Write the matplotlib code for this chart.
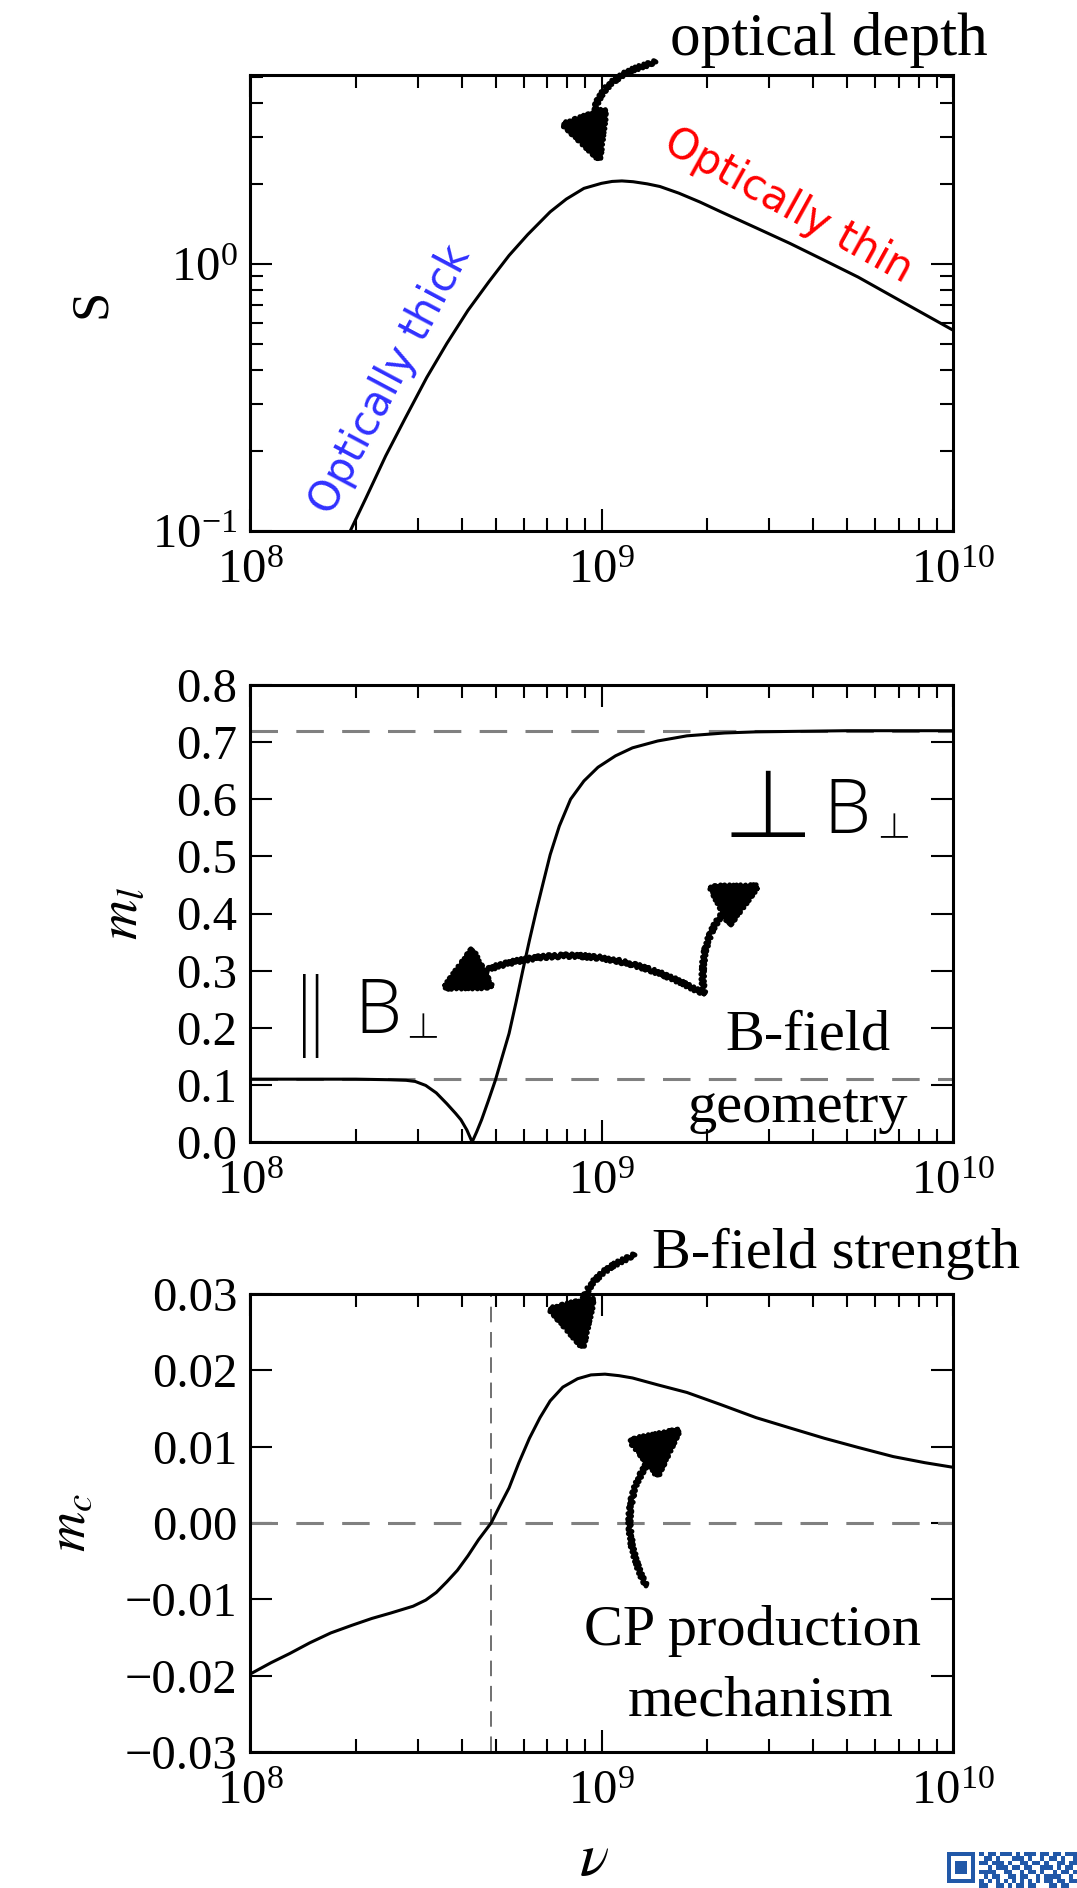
import numpy as np
import matplotlib
matplotlib.use('Agg')
import matplotlib.pyplot as plt
from matplotlib.patches import FancyArrowPatch
from matplotlib.colors import ListedColormap
from matplotlib.ticker import NullFormatter, MultipleLocator, FuncFormatter

plt.rcParams['font.family'] = ['Liberation Serif', 'DejaVu Serif']
plt.rcParams['mathtext.fontset'] = 'stix'

# --- data ---
# flux density S(nu)
nu_S = [1.928e8, 2.138e8, 2.432e8, 2.754e8, 3.184e8, 3.631e8, 4.169e8, 4.786e8,
        5.458e8, 6.166e8, 7.145e8, 7.943e8, 8.913e8, 1.0e9, 1.072e9, 1.143e9,
        1.230e9, 1.349e9, 1.466e9, 1.660e9, 1.905e9, 2.188e9, 2.754e9, 3.436e9,
        4.266e9, 5.370e9, 7.244e9, 1.0e10]
S = [0.100, 0.133, 0.191, 0.262, 0.376, 0.504, 0.670, 0.859,
     1.076, 1.288, 1.567, 1.750, 1.919, 2.004, 2.037, 2.046,
     2.032, 1.995, 1.950, 1.841, 1.706, 1.567, 1.365, 1.194,
     1.038, 0.893, 0.716, 0.565]

# linear polarisation fraction m_l(nu)
nu_ml = [1.0e8, 1.5e8, 2.0e8, 2.5e8, 2.78e8, 2.951e8, 3.162e8, 3.388e8, 3.631e8,
         3.846e8, 3.981e8, 4.140e8, 4.285e8, 4.416e8, 4.560e8, 4.764e8, 4.989e8,
         5.212e8, 5.458e8, 5.715e8, 5.970e8, 6.237e8, 6.531e8, 6.839e8, 7.145e8,
         7.586e8, 8.166e8, 8.913e8, 9.772e8, 1.096e9, 1.225e9, 1.445e9, 1.750e9,
         2.239e9, 2.754e9, 5.012e9, 1.0e10]
ml = [0.110, 0.110, 0.110, 0.109, 0.108, 0.106, 0.099, 0.086, 0.067,
      0.050, 0.039, 0.021, 0.000, 0.018, 0.039, 0.072, 0.108,
      0.148, 0.190, 0.245, 0.300, 0.353, 0.406, 0.456, 0.503,
      0.553, 0.600, 0.632, 0.656, 0.676, 0.690, 0.702, 0.711,
      0.716, 0.718, 0.720, 0.720]
ml_limits = [0.72, 0.11]

# circular polarisation fraction m_c(nu)
nu_mc = [1.0e8, 1.148e8, 1.297e8, 1.479e8, 1.698e8, 1.950e8, 2.223e8, 2.512e8,
         2.911e8, 3.162e8, 3.388e8, 3.631e8, 3.890e8, 4.169e8, 4.467e8, 4.853e8,
         5.129e8, 5.458e8, 5.821e8, 6.237e8, 6.683e8, 7.145e8, 7.762e8, 8.551e8,
         9.333e8, 1.023e9, 1.122e9, 1.225e9, 1.445e9, 1.750e9, 2.188e9, 2.754e9,
         3.467e9, 4.305e9, 5.370e9, 6.761e9, 8.318e9, 1.0e10]
mc = [-0.0198, -0.0183, -0.0171, -0.0157, -0.0144, -0.0134, -0.0125, -0.0118,
      -0.0109, -0.0101, -0.0091, -0.0077, -0.0062, -0.0043, -0.0022, 0.0000,
      0.0022, 0.0046, 0.0079, 0.0111, 0.0138, 0.0160, 0.0178, 0.0189,
      0.0194, 0.0195, 0.0193, 0.0190, 0.0181, 0.0171, 0.0155, 0.0138,
      0.0124, 0.0111, 0.0099, 0.0087, 0.0079, 0.0073]
nu_zero = 4.85e8

# corner of the QR badge (visible rows only)
qr_rows = ["11111110101101110101110110110111",
           "10000010011010001110100101101001",
           "10111010110111010011011010011011",
           "10111010001011101101100111010110",
           "10111010111100110010110100101101",
           "10000010010110011011001011110010",
           "11111110101010101010101011011011",
           "00000000110011010110110001101100"]

W, H = 1077, 1888
fig = plt.figure(figsize=(W / 100, H / 100), dpi=100)


def P(x, y):
    # pixel position (from top-left) -> figure fraction
    return (x / W, 1 - y / H)


def box(top, bottom):
    return [250 / W, 1 - bottom / H, 703 / W, (bottom - top) / H]


def style(ax):
    ax.set_xscale('log')
    ax.set_xlim(1e8, 1e10)
    ax.tick_params(which='both', direction='in', top=True, right=True, width=1.5,
                   labelsize=35)
    ax.tick_params(which='major', length=16)
    ax.tick_params(which='minor', length=9.5)
    ax.tick_params(axis='x', pad=13)
    ax.tick_params(axis='y', pad=9)
    ax.xaxis.set_minor_formatter(NullFormatter())
    for s in ax.spines.values():
        s.set_linewidth(2.2)


def fmt(nd):
    def f(v, pos):
        if abs(v) < 1e-12:
            v = 0.0
        return ('%.*f' % (nd, v)).replace('-', '\u2212')
    return FuncFormatter(f)


grey = '#808080'
dash = (0, (9, 6))

# top: S
ax1 = fig.add_axes(box(75, 531))
style(ax1)
ax1.plot(nu_S, S, color='k', lw=2.2)
ax1.set_yscale('log')
ax1.set_ylim(0.1, 5.1)
ax1.yaxis.set_minor_formatter(NullFormatter())
ax1.set_ylabel('S', fontsize=38)
ax1.yaxis.set_label_coords(-0.19, 0.5)

# middle: m_l
ax2 = fig.add_axes(box(685, 1142))
style(ax2)
for v in ml_limits:
    ax2.axhline(v, color=grey, lw=2.2, ls=dash)
ax2.plot(nu_ml, ml, color='k', lw=2.2)
ax2.set_ylim(0, 0.8)
ax2.yaxis.set_major_locator(MultipleLocator(0.1))
ax2.yaxis.set_major_formatter(fmt(1))
ax2.set_ylabel(r'$m_l$', fontsize=40)
ax2.yaxis.set_label_coords(-0.145, 0.5)

# bottom: m_c
ax3 = fig.add_axes(box(1294, 1752))
style(ax3)
ax3.axhline(0, color=grey, lw=2.2, ls=dash)
ax3.axvline(nu_zero, color='#707070', lw=1.4, ls=(0, (8, 5)))
ax3.plot(nu_mc, mc, color='k', lw=2.2)
ax3.set_ylim(-0.03, 0.03)
ax3.yaxis.set_major_locator(MultipleLocator(0.01))
ax3.yaxis.set_major_formatter(fmt(2))
ax3.set_ylabel(r'$m_c$', fontsize=40)
ax3.yaxis.set_label_coords(-0.219, 0.5)
ax3.set_xlabel(r'$\nu$', fontsize=44)
ax3.xaxis.set_label_coords(0.49, -0.175)

# --- annotations ---
serif = dict(fontsize=42, ha='left', va='baseline')
fig.text(*P(670, 55), 'optical depth', **dict(serif, fontsize=44))
fig.text(*P(652, 1268), 'B-field strength', **serif)
fig.text(*P(725, 1050), 'B-field', **serif)
fig.text(*P(687, 1122), 'geometry', **serif)
fig.text(*P(584, 1645), 'CP production', **serif)
fig.text(*P(628, 1716), 'mechanism', **serif)

fig.text(*P(390, 380), 'Optically thick', color='#3030ff', fontsize=30, rotation=62,
         ha='center', va='center', rotation_mode='anchor', family='DejaVu Sans')
fig.text(*P(788, 206), 'Optically thin', color='#ff0000', fontsize=30, rotation=-29,
         ha='center', va='center', rotation_mode='anchor', family='DejaVu Sans')

# thin-stroked symbols for the field orientation labels
sym = dict(ha='center', va='baseline', weight='light',
           family=['Noto Sans CJK JP', 'DejaVu Sans'])
light = dict(ha='left', va='baseline', family=['Open Sans', 'DejaVu Sans'], weight='light')
fig.text(*P(768, 841), '\u22a5', fontsize=68, **sym)
fig.text(*P(823, 833), 'B', fontsize=54, **light)
fig.text(*P(894, 839), '\u22a5', fontsize=25, **sym)
fig.text(*P(311, 1048), '\u2016', fontsize=60, **sym)
fig.text(*P(354, 1033), 'B', fontsize=54, **light)
fig.text(*P(423, 1039), '\u22a5', fontsize=25, **sym)


def arrow(tail, tip, rad, hl=3.2, hw=1.6):
    a = FancyArrowPatch(P(*tail), P(*tip), transform=fig.transFigure,
                        connectionstyle='arc3,rad=%g' % rad,
                        arrowstyle='-|>,head_length=%g,head_width=%g' % (hl, hw),
                        mutation_scale=10, lw=3.5, color='k',
                        shrinkA=0, shrinkB=0)
    a.set_sketch_params(scale=2, length=5, randomness=2)
    fig.add_artist(a)


arrow((656, 62), (601, 164), 0.55)
arrow((704, 994), (440, 990), 0.27, hl=3.0, hw=1.5)
arrow((704, 994), (762, 884), -0.35, hl=3.0, hw=1.5)
arrow((635, 1255), (584, 1352), 0.45)
arrow((646, 1586), (683, 1427), -0.4)

# QR badge peeking in at the bottom right corner
qr = np.array([[int(c) for c in r] for r in qr_rows])
axq = fig.add_axes([947 / W, 0, 130 / W, 36 / H])
axq.imshow(qr, cmap=ListedColormap(['white', '#2158a8']), aspect='auto',
           interpolation='nearest')
axq.axis('off')

fig.savefig('out.png', dpi=100)
